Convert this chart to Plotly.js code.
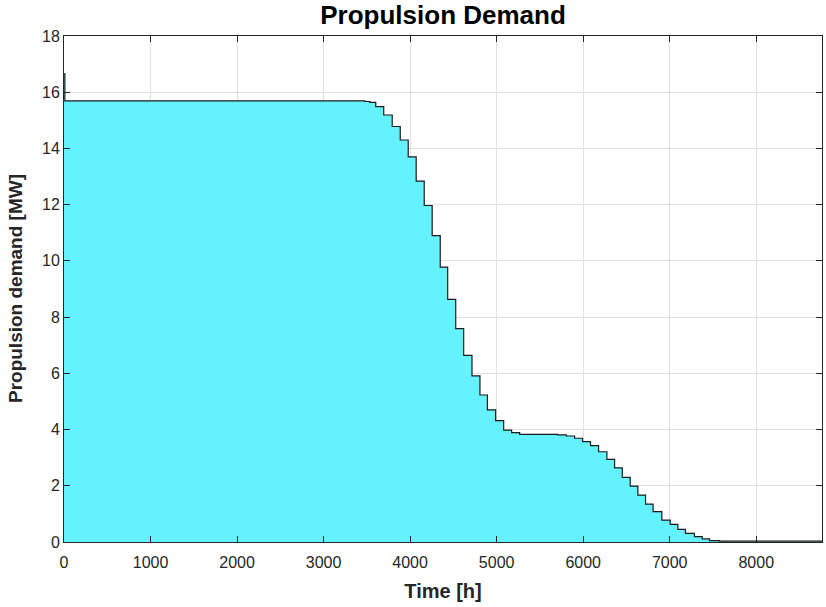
<!DOCTYPE html>
<html>
<head>
<meta charset="utf-8">
<script src="https://cdn.plot.ly/plotly-3.0.1.min.js"></script>
<style>html,body{margin:0;padding:0;background:#fff;}#chart{width:826px;height:607px;}</style>
</head>
<body>
<div id="chart"></div>
<script>
// Step start times [h] and propulsion demand [MW] held from that time
const timeHours = [0, 10, 3383, 3476, 3533, 3603, 3695, 3793, 3886, 3978, 4070, 4163, 4255, 4348, 4434, 4527, 4619, 4715, 4807, 4893, 4988, 5081, 5173, 5266, 5500, 5704, 5805, 5901, 5993, 6085, 6178, 6274, 6363, 6452, 6544, 6632, 6721, 6808, 6909, 7006, 7094, 7182, 7286, 7375, 7460, 7575, 8760];
const demandMW = [16.65, 15.69, 15.69, 15.67, 15.64, 15.49, 15.19, 14.78, 14.30, 13.70, 12.84, 11.97, 10.90, 9.78, 8.63, 7.59, 6.64, 5.91, 5.23, 4.70, 4.32, 3.98, 3.89, 3.83, 3.83, 3.81, 3.77, 3.69, 3.57, 3.43, 3.21, 2.94, 2.64, 2.30, 1.99, 1.67, 1.35, 1.08, 0.78, 0.63, 0.45, 0.31, 0.19, 0.11, 0.05, 0.03, 0.03];
const xTicks = [0, 1000, 2000, 3000, 4000, 5000, 6000, 7000, 8000];
const yTicks = [0, 2, 4, 6, 8, 10, 12, 14, 16, 18];

const FONT = 'Liberation Sans, Arial, sans-serif';
const axisCommon = {
  showline: true, linecolor: '#262626', linewidth: 1, mirror: 'ticks',
  ticks: 'inside', ticklen: 6, tickcolor: '#262626', tickwidth: 1,
  showgrid: true, gridcolor: '#e0e0e0', gridwidth: 1, zeroline: false,
  tickfont: {family: FONT, size: 16, color: '#262626'},
  tickmode: 'array'
};

Plotly.newPlot('chart', [{
  x: timeHours, y: demandMW, type: 'scatter', mode: 'lines',
  line: {shape: 'hv', color: '#1a1a1a', width: 1.2},
  fill: 'tozeroy', fillcolor: '#64F2FF', hoverinfo: 'skip'
}], {
  width: 826, height: 607,
  margin: {l: 64, r: 4, t: 36, b: 65},
  paper_bgcolor: '#fff', plot_bgcolor: '#fff',
  showlegend: false,
  title: {text: '<b>Propulsion Demand</b>', x: 0.5364, xanchor: 'center', y: 0.975, yanchor: 'middle',
    font: {family: FONT, size: 26, color: '#000'}},
  xaxis: Object.assign({}, axisCommon, {
    range: [0, 8760], tickvals: xTicks, ticktext: xTicks.map(String), ticklabelstandoff: 6,
    title: {text: '<b>Time [h]</b>', standoff: 13,
      font: {family: FONT, size: 20, color: '#262626'}}
  }),
  yaxis: Object.assign({}, axisCommon, {
    range: [0, 18], tickvals: yTicks, ticktext: yTicks.map(String)
  }),
  annotations: [{
    text: '<b>Propulsion demand [MW]</b>', textangle: -90, showarrow: false,
    xref: 'paper', yref: 'paper', x: -0.0646, y: 0.5, xanchor: 'center', yanchor: 'middle',
    font: {family: FONT, size: 19, color: '#262626'}
  }]
}, {staticPlot: true});
</script>
</body>
</html>
